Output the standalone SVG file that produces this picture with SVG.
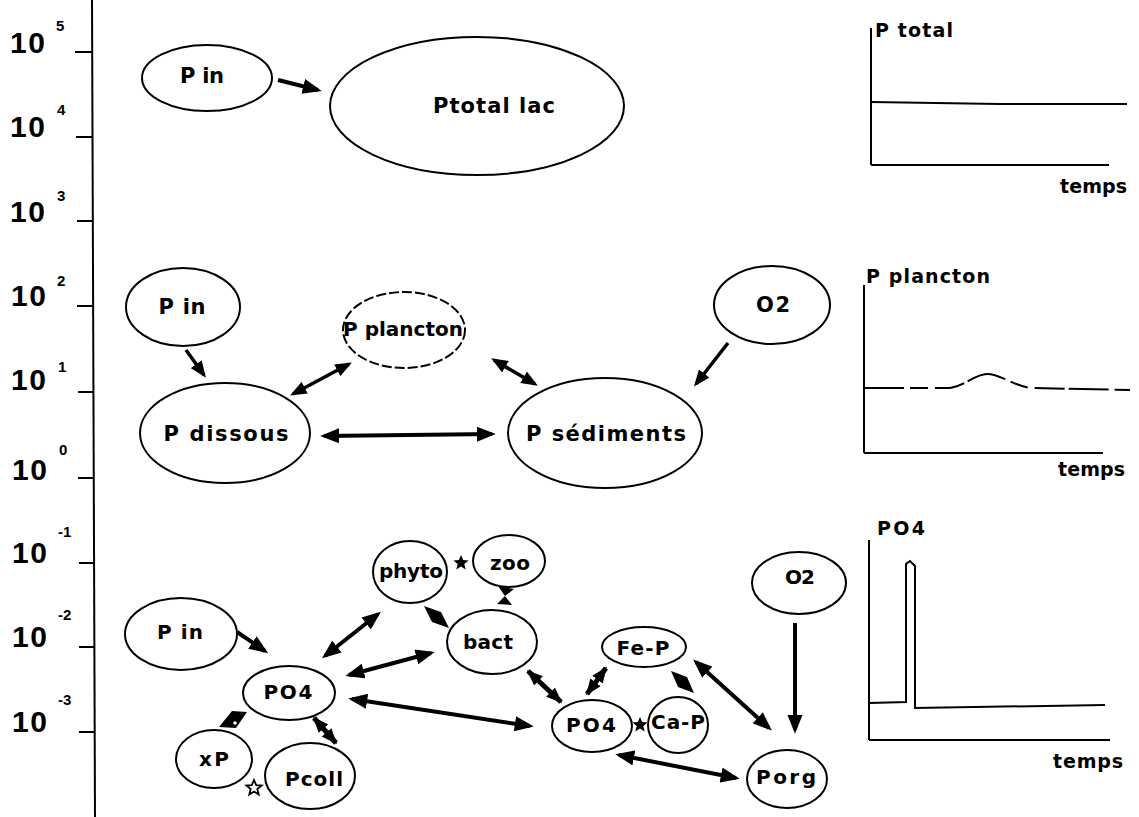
<svg xmlns="http://www.w3.org/2000/svg" xmlns:xlink="http://www.w3.org/1999/xlink" width="1139" height="817" viewBox="0 0 1139 817">
<style>
.n{fill:none;stroke:#000;stroke-width:2}
.t{font-family:"DejaVu Sans","Liberation Sans",sans-serif;font-weight:bold;font-size:20px;fill:#000;text-anchor:middle}
.m{font-size:21px}
.ax{font-family:"Liberation Sans",Arial,sans-serif;font-weight:bold;fill:#000}
.big{font-size:30px}
.sup{font-size:15px}
.g{font-family:"DejaVu Sans","Liberation Sans",sans-serif;font-weight:bold;font-size:19px;fill:#000}
.ln{stroke:#000;stroke-width:2;fill:none}
.a1{stroke:#000;stroke-width:4;fill:none;marker-end:url(#ah)}
.a2{stroke:#000;stroke-width:4;fill:none;marker-start:url(#ah);marker-end:url(#ah)}
.a3{stroke:#000;stroke-width:3.5;fill:none;marker-start:url(#ah);marker-end:url(#ah)}
.a4{stroke:#000;stroke-width:3.5;fill:none;marker-end:url(#ah)}
.a5{stroke:#000;stroke-width:5;fill:none;marker-start:url(#ahs);marker-end:url(#ahs)}
</style>
<defs>
<marker id="ah" viewBox="0 0 10 8" refX="8" refY="4" markerWidth="4.8" markerHeight="3.8" orient="auto-start-reverse" markerUnits="strokeWidth">
<path d="M0,0 L10,4 L0,8 z" fill="#000"/>
</marker>
<marker id="ahs" viewBox="0 0 10 8" refX="9" refY="4" markerWidth="3.2" markerHeight="3.2" orient="auto-start-reverse" markerUnits="strokeWidth">
<path d="M0,0 L10,4 L0,8 z" fill="#000"/>
</marker>
<polygon id="star" points="0,-8 2.2,-2.9 7.6,-2.5 3.3,1.1 4.7,6.5 0,3.5 -4.7,6.5 -3.3,1.1 -7.6,-2.5 -2.2,-2.9"/>
</defs>
<rect width="1139" height="817" fill="#fff"/>

<g id="axis">
<line x1="92" y1="0" x2="95" y2="817" stroke="#000" stroke-width="2"/>
<g stroke="#000" stroke-width="2">
<line x1="75" y1="52" x2="93" y2="52"/>
<line x1="76" y1="137" x2="93" y2="137"/>
<line x1="77" y1="221" x2="93" y2="221"/>
<line x1="77" y1="306" x2="93" y2="306"/>
<line x1="78" y1="392" x2="94" y2="392"/>
<line x1="78" y1="478" x2="94" y2="478"/>
<line x1="79" y1="563" x2="94" y2="563"/>
<line x1="79" y1="647" x2="95" y2="647"/>
<line x1="79" y1="732" x2="95" y2="732"/>
</g>
<text class="ax big" x="10" y="53" textLength="35">10</text><text class="ax sup" x="56" y="31">5</text>
<text class="ax big" x="10" y="137" textLength="35">10</text><text class="ax sup" x="57" y="115">4</text>
<text class="ax big" x="10" y="222" textLength="35">10</text><text class="ax sup" x="57" y="201">3</text>
<text class="ax big" x="11" y="306" textLength="35">10</text><text class="ax sup" x="57" y="286">2</text>
<text class="ax big" x="11" y="390" textLength="35">10</text><text class="ax sup" x="58" y="372">1</text>
<text class="ax big" x="12" y="480" textLength="35">10</text><text class="ax sup" x="59" y="455">0</text>
<text class="ax big" x="12" y="563" textLength="35">10</text><text class="ax sup" x="58" y="537">-1</text>
<text class="ax big" x="12" y="647" textLength="35">10</text><text class="ax sup" x="58" y="620">-2</text>
<text class="ax big" x="12" y="732" textLength="35">10</text><text class="ax sup" x="58" y="705">-3</text>
</g>

<g id="top-pin"><ellipse class="n" cx="207" cy="78" rx="65" ry="33"/><text class="t m" x="202" y="83" textLength="44">P in</text></g>
<g id="top-ptotal"><ellipse class="n" cx="477" cy="106" rx="147" ry="69"/><text class="t m" x="494" y="113" textLength="122">Ptotal lac</text></g>

<g id="mid-pin"><ellipse class="n" cx="183" cy="307" rx="57" ry="39"/><text class="t m" x="182" y="314" textLength="47">P in</text></g>
<g id="mid-pplancton"><ellipse class="n" cx="404" cy="330" rx="61" ry="38" stroke-dasharray="10 3"/><text class="t" x="403" y="336" font-size="18">P plancton</text></g>
<g id="mid-o2"><ellipse class="n" cx="772" cy="305" rx="58" ry="39"/><text class="t m" x="773" y="312" textLength="34">O2</text></g>
<g id="mid-pdissous"><ellipse class="n" cx="225" cy="433" rx="85" ry="50"/><text class="t m" x="226" y="441" textLength="125">P dissous</text></g>
<g id="mid-psediments"><ellipse class="n" cx="605" cy="433" rx="97" ry="55"/><text class="t m" x="606" y="441" textLength="160">P sédiments</text></g>

<g id="bot-pin"><ellipse class="n" cx="181" cy="634" rx="56" ry="36"/><text class="t" x="180" y="639" textLength="46">P in</text></g>
<g id="bot-po4l"><ellipse class="n" cx="289" cy="693" rx="46" ry="27"/><text class="t" x="288" y="699" textLength="49">PO4</text></g>
<g id="bot-phyto"><ellipse class="n" cx="410" cy="572" rx="37" ry="31"/><text class="t" x="411" y="578" textLength="64">phyto</text></g>
<g id="bot-zoo"><ellipse class="n" cx="509" cy="561" rx="36" ry="26"/><text class="t" x="510" y="570" textLength="40">zoo</text></g>
<g id="bot-bact"><ellipse class="n" cx="492" cy="642" rx="45" ry="32"/><text class="t" x="488" y="649" textLength="50">bact</text></g>
<g id="bot-xp"><ellipse class="n" cx="214" cy="759" rx="38" ry="29"/><text class="t" x="214" y="766" textLength="30">xP</text></g>
<g id="bot-pcoll"><ellipse class="n" cx="310" cy="776" rx="45" ry="33"/><text class="t" x="314" y="786" textLength="58">Pcoll</text></g>
<g id="bot-o2"><ellipse class="n" cx="799" cy="583" rx="47" ry="31"/><text class="t" x="800" y="584" textLength="30">O2</text></g>
<g id="bot-fep"><ellipse class="n" cx="644" cy="647" rx="42" ry="20"/><text class="t" x="643" y="655" textLength="53">Fe-P</text></g>
<g id="bot-po4r"><ellipse class="n" cx="592" cy="726" rx="40" ry="26"/><text class="t" x="591" y="732" textLength="50">PO4</text></g>
<g id="bot-cap"><ellipse class="n" cx="678" cy="725" rx="30" ry="28"/><text class="t" x="678" y="729" textLength="54">Ca-P</text></g>
<g id="bot-porg"><ellipse class="n" cx="787" cy="779" rx="40" ry="29"/><text class="t" x="786" y="784" textLength="60">Porg</text></g>

<g id="connectors">
<line class="a1" x1="278" y1="80" x2="318" y2="90" stroke-width="5"/>

<line class="a4" x1="186" y1="350" x2="204" y2="375"/>
<line class="a3" x1="293" y1="394" x2="349" y2="364"/>
<line class="a3" x1="494" y1="360" x2="535" y2="384"/>
<line class="a4" x1="728" y1="343" x2="696" y2="384"/>
<line class="a2" x1="324" y1="436" x2="492" y2="434"/>

<line class="a1" x1="237" y1="632" x2="265" y2="651"/>
<line class="a2" x1="325" y1="656" x2="378" y2="614"/>
<line class="a2" x1="349" y1="675" x2="431" y2="653"/>
<line class="a2" x1="352" y1="699" x2="530" y2="726"/>
<line class="a5" x1="528" y1="671" x2="561" y2="702"/>
<line class="a1" x1="795" y1="623" x2="795" y2="730"/>
<line class="a2" x1="696" y1="662" x2="769" y2="728"/>
<line class="a5" x1="587" y1="694" x2="606" y2="668"/>
<line class="a2" x1="619" y1="755" x2="736" y2="778"/>
<line class="a5" x1="314" y1="718" x2="336" y2="743"/>

<polygon points="424,606 432,622 449,628 441,612" fill="#000"/>
<polygon points="671,671 678,687 694,693 687,677" fill="#000"/>
<polygon points="219,727 232,711 247,712 236,728" fill="#000"/>
<circle cx="235" cy="723" r="1.8" fill="#fff"/>
<polygon points="498,586 514,589 505,596 512,605 497,604 505,596" fill="#000"/>
<use xlink:href="#star" x="461" y="563" fill="#000"/>
<use xlink:href="#star" x="640" y="725" fill="#000"/>
<use xlink:href="#star" x="254" y="788" fill="#fff" stroke="#000" stroke-width="1.8"/>
</g>

<g id="graph-ptotal">
<line class="ln" x1="871" y1="28" x2="871" y2="165"/>
<line class="ln" x1="871" y1="165" x2="1109" y2="165"/>
<path class="ln" d="M871,102 L1000,104 L1127,104"/>
<text class="g" x="875" y="37" textLength="78">P total</text>
<text class="g" x="1060" y="193" textLength="67">temps</text>
</g>

<g id="graph-pplancton">
<line class="ln" x1="864" y1="285" x2="864" y2="453"/>
<line class="ln" x1="864" y1="453" x2="1103" y2="453"/>
<path class="ln" d="M864,388 L950,388 C965,386 975,374 987,374 C1000,374 1010,384 1030,388 L1130,390" stroke-dasharray="40 6 18 7 30 4"/>
<text class="g" x="866" y="283" textLength="124">P plancton</text>
<text class="g" x="1058" y="476" textLength="67">temps</text>
</g>

<g id="graph-po4">
<line class="ln" x1="869" y1="540" x2="869" y2="740"/>
<line class="ln" x1="869" y1="740" x2="1110" y2="740"/>
<path class="ln" d="M869,703 L906,702 L906,564 L910,561 L915,566 L915,708 L1105,705"/>
<text class="g" x="877" y="535" textLength="48">PO4</text>
<text class="g" x="1053" y="768" textLength="70">temps</text>
</g>
</svg>
